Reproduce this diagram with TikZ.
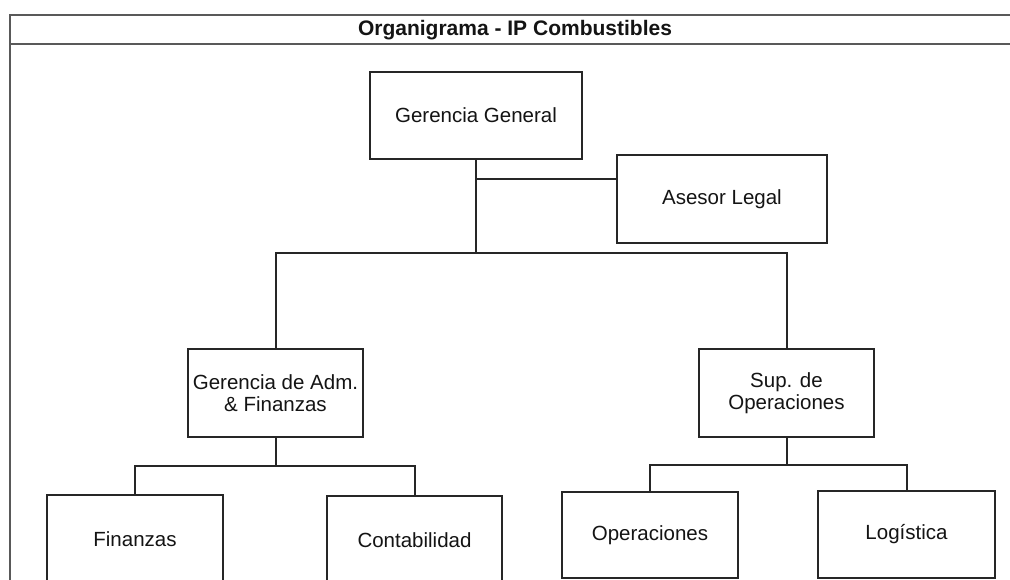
\documentclass[tikz,border=0pt]{standalone}
\usepackage{fontspec}
\setmainfont{Liberation Sans}
\begin{document}
\begin{tikzpicture}[x=1pt,y=-1pt,
  box/.style={draw=black!85, line width=2pt, rectangle, minimum height=88pt, align=center, inner sep=0pt, text=black!92, font=\fontsize{20.5}{22.5}\selectfont},
  conn/.style={draw=black!85, line width=2pt},
  framel/.style={draw=black!65, line width=2.6pt}]
\useasboundingbox (0,0) rectangle (1010,580);
\clip (0,0) rectangle (1010,580);
\fill[white] (0,0) rectangle (1010,580);
% frame
\draw[framel] (10,600) -- (10,15) -- (1030,15);
\draw[framel] (10,44) -- (1030,44);
\node[font=\bfseries\fontsize{21}{24}\selectfont, text=black!92] (title) at (515,30) {Organigrama - IP Combustibles};
% boxes
\node[box, minimum width=212pt, minimum height=87pt] (gg) at (476,115.5) {Gerencia General};
\node[box, minimum width=210pt] (asesor) at (722,199) {Asesor Legal};
\node[box, minimum width=175pt] (gaf) at (275.5,393) {Gerencia de Adm.\\\& Finanzas};
\node[box, minimum width=175pt] (sup) at (786.5,393) {Sup. de\\Operaciones};
\node[box, minimum width=176pt] (fin) at (135,539) {Finanzas};
\node[box, minimum width=175pt] (cont) at (414.5,540) {Contabilidad};
\node[box, minimum width=176pt, minimum height=86pt] (ope) at (650,535) {Operaciones};
\node[box, minimum width=177pt, minimum height=87pt] (log) at (906.5,534.5) {Logística};
% connectors
\coordinate (j0) at (476,179);
\coordinate (j1) at (476,253);
\coordinate (j2) at (275.5,466);
\coordinate (j3) at (786.5,465);
\draw[conn] (gg.south) -- (j1);
\draw[conn] (j0) -- (j0 -| asesor.west);
\draw[conn] (gaf.north) |- (j1) -| (sup.north);
\draw[conn] (gaf.south) -- (j2);
\draw[conn] (fin.north) |- (j2) -| (cont.north);
\draw[conn] (sup.south) -- (j3);
\draw[conn] (ope.north) |- (j3) -| (log.north);
\end{tikzpicture}
\end{document}
